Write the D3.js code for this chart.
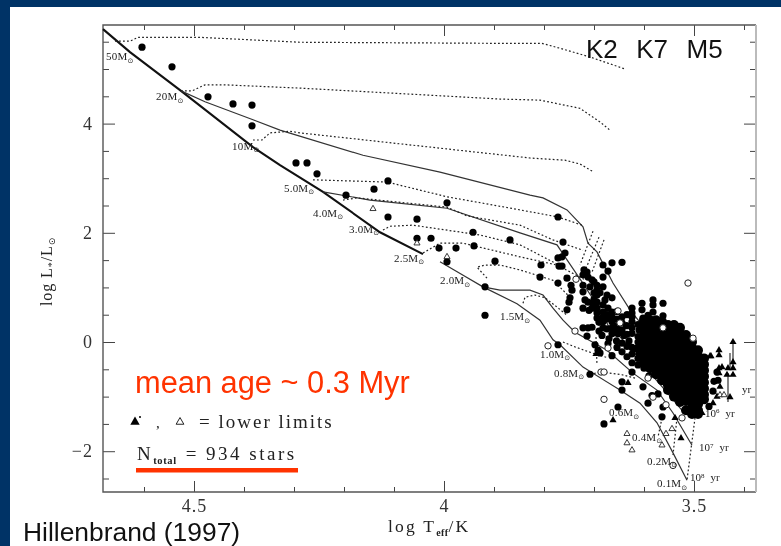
<!DOCTYPE html>
<html><head><meta charset="utf-8">
<script src="https://cdn.jsdelivr.net/npm/d3@7"></script>
<style>html,body{margin:0;padding:0;background:#fff;overflow:hidden}svg{display:block}</style>
</head><body><div id="chart"></div>
<script>
// ---- data, all in log Teff / log L units ----
const xMajor=[4.5,4,3.5];
const xMinor=[4.6,4.4,4.3,4.2,4.1,3.9,3.8,3.7,3.6,3.4];
const yMajor=[4,2,0,-2];
const yMinor=[5.5,5,4.5,3.5,3,2.5,1.5,1,0.5,-0.5,-1,-1.5,-2.5];

const zams=[[4.682,5.73],[4.628,5.31],[4.526,4.60],[4.382,3.57],[4.328,3.24],[4.242,2.75],[4.128,2.01],[4.042,1.61]];
const zamsLow=[[4.008,1.47],[3.922,1.01],[3.854,.70],[3.808,.40],[3.782,.04],[3.768,-.05],[3.722,-.46],[3.648,-.88],[3.608,-1.12],[3.574,-1.48],[3.542,-2.03],[3.514,-2.53]];
const birthA=[[4.526,4.60],[4.478,4.40],[4.382,4.07],[4.328,3.88],[4.162,3.42],[4.008,3.11],[3.828,2.69],[3.802,2.64],[3.754,2.42],[3.722,2.11],[3.712,1.81],[3.694,1.65],[3.662,1.08],[3.628,.59],[3.588,.13]];
const birthB=[[4.242,2.75],[4.148,2.60],[3.994,2.45],[3.848,2.00],[3.774,1.78],[3.758,1.56],[3.724,1.10],[3.688,.59],[3.672,.31],[3.628,-.09],[3.598,-.46],[3.558,-.88],[3.524,-1.25],[3.498,-1.39]];
const birthC=[[3.922,1.01],[3.888,.95],[3.828,.95],[3.802,.86],[3.782,.62],[3.762,.40],[3.738,.18],[3.674,-.15],[3.622,-.57],[3.574,-.88],[3.542,-1.30],[3.504,-1.89]];

const track50=[[4.658,5.51],[4.628,5.51],[4.612,5.58],[4.488,5.58],[4.288,5.49],[3.888,5.47],[3.804,5.47],[3.768,5.38],[3.708,5.22],[3.638,5.00]];
const track20=[[4.526,4.60],[4.504,4.60],[4.478,4.71],[4.438,4.71],[4.288,4.65],[3.888,4.45],[3.808,4.43],[3.728,4.28],[3.688,4.03],[3.668,3.88]];
const track10=[[4.382,3.70],[4.364,3.70],[4.348,3.83],[4.308,3.86],[4.288,3.83],[3.828,3.37],[3.758,3.33],[3.728,3.26],[3.700,3.11]];
const track5=[[4.262,2.97],[4.114,2.93],[3.994,2.66],[3.848,2.42],[3.772,2.29],[3.724,2.14]];
const track4=[[4.202,2.60],[4.174,2.64],[3.994,2.47],[3.954,2.31],[3.848,2.14],[3.782,1.87],[3.722,1.68]];
const track3=[[4.122,2.05],[4.108,2.12],[4.062,2.14],[3.928,1.96],[3.848,1.78],[3.762,1.37]];
const track25=[[4.042,1.63],[4.008,1.81],[3.962,1.81],[3.848,1.56],[3.774,1.41],[3.718,1.14]];
const track2=[[3.914,1.17],[3.934,1.37],[3.918,1.41],[3.888,1.41],[3.848,1.32],[3.782,1.13],[3.748,.82]];
const track15=[[3.842,.71],[3.838,.82],[3.818,.86],[3.798,.81],[3.774,.64],[3.754,.49]];
const track1=[[3.762,0],[3.738,-.09],[3.704,-.20],[3.672,-.29]];
const track08=[[3.708,-.59],[3.684,-.55],[3.644,-.60],[3.618,-.66]];
const iso1=[[3.702,2.03],[3.728,1.41]];
const iso2=[[3.69,1.92],[3.716,1.35]];
const iso3=[[3.68,1.87],[3.704,1.28]];
const iso4=[[3.696,.09],[3.694,-.42]];
const iso5=[[3.498,-1.39],[3.514,-2.53]];
const iso6=[[3.534,-1.39],[3.542,-2.07]];
const iso7=[[3.564,-1.39],[3.572,-1.74]];

const filledStars=[[4.604,5.40],[4.544,5.04],[4.472,4.49],[4.422,4.36],[4.384,4.34],[4.384,3.96],[4.296,3.28],[4.274,3.28],[4.254,3.08],[4.196,2.69],[4.14,2.80],[4.112,2.95],[4.112,2.29],[4.054,2.25],[4.054,1.90],[4.026,1.90],[4.01,1.72],[3.976,1.72],[3.94,1.76],[3.994,2.55],[3.942,2.01],[3.868,1.87],[3.898,1.48],[3.994,1.47],[3.918,1.01],[3.918,.49],
[3.772,2.29],[3.762,1.83],[3.758,1.63],[3.772,1.54],[3.764,1.56],[3.806,1.41],[3.77,1.39],[3.764,1.39],[3.808,1.19],[3.772,1.08],[3.754,1.17],[3.746,1.04],[3.744,.95],[3.748,.81],[3.75,.73],[3.754,.59],
[3.72,1.32],[3.722,1.23],[3.712,1.19],[3.704,1.14],[3.722,1.04],[3.708,1.01],[3.722,.92],[3.694,1.04],[3.694,.95],[3.694,.86],[3.718,.77],[3.712,.73],[3.702,.71],[3.694,.73],[3.694,.62],[3.694,.53],[3.694,.44],[3.722,.62],
[3.682,1.41],[3.664,1.45],[3.644,1.46],[3.672,1.30],[3.682,1.19],[3.682,1.01],[3.674,.86],[3.664,.81],[3.678,.77],[3.682,.68],[3.682,.55],[3.672,.62],[3.664,.55],[3.682,.46],[3.682,.37],[3.682,.26],[3.664,.46],[3.664,.37],[3.664,.26],[3.664,.15],[3.644,.46],[3.644,.35],[3.644,.22],[3.644,-.02],[3.644,-.18],[3.624,.62],[3.624,.53],[3.624,.46],[3.624,.37],[3.624,.16],[3.604,.71],[3.604,.59],[3.602,.44],[3.582,.77],[3.582,.68],[3.562,.71],[3.582,.55],[3.562,.48],[3.592,.49],
[3.772,-.05],[3.722,.26],[3.712,.26],[3.704,.27],[3.714,.11],[3.698,-.05],[3.692,-.15],[3.688,-.20],[3.634,-.27],[3.624,-.38],[3.624,-.55],[3.644,-.88],[3.708,-.59],[3.644,-.73],[3.602,-.82],[3.592,-1.12],[3.652,-1.19],[3.68,-1.50],[3.564,-1.37],[3.584,-.98],[3.572,-.95],[3.562,-1.19],[3.64,.12],[3.63,.02],[3.618,-.12],[3.61,-.20],[3.6,-.48],[3.59,-.62],[3.612,-.42],[3.61,.22],[3.612,.1],[3.655,.02],[3.652,.15],[3.67,.06],[3.672,-.03],[3.69,.2],[3.684,.12],
[3.612,.32],[3.612,0],[3.612,-.1],[3.612,-.3],[3.624,.26],[3.624,-.1],[3.624,-.22],[3.635,.3],[3.634,-.08],[3.654,.42],[3.654,.3],[3.7,.9],[3.704,.62],[3.674,.42],[3.674,.5],[3.654,-.1],[3.664,-.25],[3.454,-.55],[3.46,-.72],[3.462,-.9],[3.47,-1.18],[3.452,-.7],
[3.714,1.28],[3.7,1.1],[3.7,.78],[3.688,.9],[3.71,.58],[3.69,.36],[3.674,.24],[3.654,.56],[3.634,.5],[3.634,.14],[3.654,.2]];

const blobT=[3.600,3.588,3.576,3.564,3.552,3.540,3.528,3.516,3.504,3.492,3.480];
const blobL=[
[.40,.29,.18,.07,-.04,-.15,-.26,-.37],
[.40,.29,.18,.07,-.04,-.15,-.26,-.37,-.48],
[.40,.29,.18,.07,-.04,-.15,-.26,-.37,-.48,-.59],
[.37,.26,.15,.04,-.07,-.18,-.29,-.40,-.51,-.62,-.70],
[.31,.20,.09,-.02,-.13,-.24,-.35,-.46,-.57,-.68,-.79,-.88],
[.31,.20,.09,-.02,-.13,-.24,-.35,-.46,-.57,-.68,-.79,-.90,-1.00],
[.26,.15,.04,-.07,-.18,-.29,-.40,-.51,-.62,-.73,-.84,-.95,-1.10],
[.13,.02,-.09,-.20,-.31,-.42,-.53,-.64,-.75,-.86,-.97,-1.08,-1.25],
[0,-.11,-.22,-.33,-.44,-.55,-.66,-.77,-.88,-.99,-1.10,-1.21,-1.32],
[-.15,-.26,-.37,-.48,-.59,-.70,-.81,-.92,-1.03,-1.14,-1.25,-1.32],
[-.30,-.41,-.52,-.63,-.74,-.85,-.96,-1.05]];

const openStars=[[3.792,-.07],[3.68,-1.05],[3.686,-.55],[3.68,-.55],[3.672,-.11],[3.582,-1.01],[3.556,-1.15],[3.524,-1.39],[3.542,-2.26],[3.592,-.66],[3.512,1.08],[3.736,1.15],[3.738,.20],[3.652,.57],[3.562,.26],[3.502,.07],[3.648,.35]];
const filledTriangles=[[3.696,-.22],[3.632,-.75],[3.662,-1.43],[3.526,-1.76],[3.538,-1.39],[3.468,-.26],[3.45,-.15],[3.45,-.24],[3.466,-.26],[3.444,-.46],[3.45,-.48],[3.45,-.57],[3.422,0],[3.422,-.37],[3.432,-.48],[3.422,-.48],[3.434,-.60],[3.422,-.60],[3.448,-.82],[3.454,-1.0],[3.428,-1.01],[3.462,-1.12],[3.484,-1.30]];
const openTriangles=[[3.634,-1.68],[3.634,-1.85],[3.624,-1.98],[3.556,-1.68],[3.544,-1.59],[3.564,-1.89],[4.142,2.44],[4.054,1.81],[3.994,1.56],[3.448,-.97],[3.44,-.97]];
const crosses=[[3.612,2.97],[3.51,.55],[3.838,1.04],[3.808,.99],[3.774,.93],[3.762,.81],[3.72,.46],[3.722,1.72],[3.712,2.18],[3.662,1.19],[3.708,1.35],[3.428,-.20],[3.836,1.06],[3.918,.60],[3.992,1.55],[4.238,2.82],[4.178,2.44],[3.73,.2],[3.7,-.4]];
const errT=[3.422,3.428,3.432];
const errTop=[0,-.20,-.57];
const errBottom=[-.48,-.48,-1.10];

const massNames=["50","20","10","5.0","4.0","3.0","2.5","2.0","1.5","1.0","0.8","0.6","0.4","0.2","0.1"];
const massT=[4.676,4.576,4.424,4.32,4.262,4.19,4.1,4.008,3.888,3.808,3.78,3.67,3.624,3.594,3.574];
const massL=[5.16,4.43,3.52,2.75,2.29,2.0,1.47,1.06,.40,-.29,-.64,-1.36,-1.81,-2.25,-2.66];
const ageExp=["6","7","8"];
const ageT=[3.478,3.49,3.508];
const ageL=[-1.37,-2.0,-2.55];

// ---- scales ----
const W=781,H=546;
const fx={l:103,r:756,t:25,b:492};
const x=d3.scaleLinear().domain([4.682,3.376]).range([fx.l,fx.r]);
const y=d3.scaleLinear().domain([5.806,-2.747]).range([fx.t,fx.b]);

const svg=d3.select("#chart").append("svg").attr("width",W).attr("height",H);
svg.append("rect").attr("width",W).attr("height",H).attr("fill","#003366");
svg.append("rect").attr("x",10).attr("y",7).attr("width",W-10).attr("height",H-7).attr("fill","#fff");

const plot=svg.append("g").style("filter","blur(0.45px)");
const serif="'Liberation Serif','DejaVu Serif',serif";

// axes
function ax(gen,tx,ty,vals,size,labels,pad){
  const g=plot.append("g").attr("transform",`translate(${tx},${ty})`)
    .call(gen.tickValues(vals).tickSize(size).tickSizeOuter(0).tickPadding(pad||6)
      .tickFormat(labels?(d=>d<0?"\u2212"+(-d):d3.format("")(d)):""));
  g.select(".domain").remove();
  g.selectAll("line").attr("stroke","#444").attr("stroke-width",1);
  g.selectAll("text").attr("font-family",serif).attr("font-size",labels?18:0).attr("fill","#333").attr("letter-spacing",1);
  return g;
}
ax(d3.axisBottom(x),0,fx.b,xMajor,-11,true,7);
ax(d3.axisBottom(x),0,fx.b,xMinor,-5,false);
ax(d3.axisTop(x),0,fx.t,xMajor,-11,false);
ax(d3.axisTop(x),0,fx.t,xMinor,-5,false);
ax(d3.axisLeft(y),fx.l,0,yMajor,-12,true,10);
ax(d3.axisLeft(y),fx.l,0,yMinor,-6,false);
ax(d3.axisRight(y),fx.r,0,yMajor,-12,false);
ax(d3.axisRight(y),fx.r,0,yMinor,-6,false);
plot.append("path").attr("d",`M${fx.r},${fx.t}H${fx.l}V${fx.b}H${fx.r}`).attr("fill","none").attr("stroke","#555").attr("stroke-width",1.4);
plot.append("path").attr("d",`M${fx.r},${fx.t}V${fx.b}`).attr("fill","none").attr("stroke","#bbb").attr("stroke-width",2);

// lines
const line=d3.line().x(d=>x(d[0])).y(d=>y(d[1]));
[zams].forEach(s=>plot.append("path").attr("d",line(s)).attr("fill","none").attr("stroke","#111").attr("stroke-width",2.1));
[zamsLow,birthA,birthB,birthC].forEach(s=>plot.append("path").attr("d",line(s)).attr("fill","none").attr("stroke","#333").attr("stroke-width",1.2));
[track50,track20,track10,track5,track4,track3,track25,track2,track15,track1,track08,iso1,iso2,iso3,iso4,iso5,iso6,iso7].forEach(s=>
  plot.append("path").attr("d",line(s)).attr("fill","none").attr("stroke","#222").attr("stroke-width",1.2).attr("stroke-dasharray","1.8 2.2"));

// error bars
plot.append("g").selectAll("line").data(errT).join("line")
  .attr("x1",d=>x(d)).attr("x2",d=>x(d))
  .attr("y1",(d,i)=>y(errTop[i])).attr("y2",(d,i)=>y(errBottom[i]))
  .attr("stroke","#222").attr("stroke-width",1.1);

// stars
const blobStars=blobT.flatMap((t,i)=>blobL[i].map(l=>[t,l]));
plot.append("g").selectAll("circle").data(blobStars).join("circle")
  .attr("cx",d=>x(d[0])).attr("cy",d=>y(d[1])).attr("r",5).attr("fill","#000");
plot.append("g").selectAll("circle").data(filledStars).join("circle")
  .attr("cx",d=>x(d[0])).attr("cy",d=>y(d[1])).attr("r",3.6).attr("fill","#000");
plot.append("g").selectAll("circle").data(openStars).join("circle")
  .attr("cx",d=>x(d[0])).attr("cy",d=>y(d[1])).attr("r",3.2).attr("fill","#fff").attr("stroke","#222").attr("stroke-width",1);
const sym=(type,size)=>d3.symbol().type(type).size(size)();
plot.append("g").selectAll("path").data(filledTriangles).join("path")
  .attr("d",sym(d3.symbolTriangle,22)).attr("transform",d=>`translate(${x(d[0])},${y(d[1])})`).attr("fill","#000");
plot.append("g").selectAll("path").data(openTriangles).join("path")
  .attr("d",sym(d3.symbolTriangle,16)).attr("transform",d=>`translate(${x(d[0])},${y(d[1])})`).attr("fill","#fff").attr("stroke","#222").attr("stroke-width",.9);
plot.append("g").selectAll("path").data(crosses).join("path")
  .attr("d",sym(d3.symbolTimes,9)).attr("transform",d=>`translate(${x(d[0])},${y(d[1])})`).attr("fill","#222");

// mass labels
const ml=plot.append("g").attr("font-family",serif).attr("font-size",11).attr("fill","#222").attr("letter-spacing",.2);
massNames.forEach((m,i)=>{
  const t=ml.append("text").attr("x",x(massT[i])).attr("y",y(massL[i]));
  t.append("tspan").text(m+"M");
  t.append("tspan").attr("dy",2.5).attr("font-size",7).attr("font-family","'DejaVu Sans'").text("\u2299");
});
// age labels
const al=plot.append("g").attr("font-family",serif).attr("font-size",11).attr("fill","#222");
ageExp.forEach((e,i)=>{
  const t=al.append("text").attr("x",x(ageT[i])).attr("y",y(ageL[i]));
  t.append("tspan").text("10");
  t.append("tspan").attr("dy",-3.5).attr("font-size",7).text(e);
  t.append("tspan").attr("dy",3.5).attr("dx",6).text("yr");
});
al.append("text").attr("x",x(3.404)).attr("y",y(-.93)).text("yr");

// axis titles
const xt=plot.append("text").attr("x",388).attr("y",532).attr("font-family",serif).attr("font-size",17.5).attr("fill","#222").attr("letter-spacing",2.2);
xt.append("tspan").text("log T");
xt.append("tspan").attr("dy",3.5).attr("font-size",10).attr("font-weight","bold").attr("letter-spacing",.4).text("eff");
xt.append("tspan").attr("dy",-3.5).text("/K");
const yt=plot.append("text").attr("transform","translate(52,306) rotate(-90)").attr("font-family",serif).attr("font-size",16).attr("fill","#222").attr("letter-spacing",.9);
yt.append("tspan").text("log L");
yt.append("tspan").attr("dy",3).attr("font-size",10).text("*");
yt.append("tspan").attr("dy",-3).text("/L");
yt.append("tspan").attr("dy",3).attr("font-size",9).attr("font-family","'DejaVu Sans'").text("\u2299");

// legend notes
plot.append("path").attr("d",sym(d3.symbolTriangle,38)).attr("transform","translate(135,422)").attr("fill","#000");
plot.append("circle").attr("cx",140).attr("cy",417).attr("r",1).attr("fill","#000");
plot.append("text").attr("x",156).attr("y",428).attr("font-family",serif).attr("font-size",15).attr("fill","#222").text(",");
plot.append("path").attr("d",sym(d3.symbolTriangle,26)).attr("transform","translate(180,422)").attr("fill","#fff").attr("stroke","#222").attr("stroke-width",1);
plot.append("text").attr("x",199).attr("y",428).attr("font-family",serif).attr("font-size",19).attr("fill","#222").attr("letter-spacing",2).text("= lower limits");
const nt=plot.append("text").attr("x",137).attr("y",460).attr("font-family",serif).attr("font-size",19).attr("fill","#222").attr("letter-spacing",2.5);
nt.append("tspan").text("N");
nt.append("tspan").attr("dy",4).attr("font-size",10.5).attr("font-weight","bold").attr("letter-spacing",.6).text("total");
nt.append("tspan").attr("dy",-4).attr("dx",9).text("= 934 stars");

// slide overlays
const sans="'Liberation Sans',Arial,sans-serif";
svg.append("rect").attr("x",136).attr("y",468).attr("width",162).attr("height",4.5).attr("fill","#ff3300");
svg.append("text").attr("x",135).attr("y",393).attr("font-family",sans).attr("font-size",30.8).attr("fill","#ff3300").text("mean age ~ 0.3 Myr");
svg.append("text").attr("x",586).attr("y",58).attr("font-family",sans).attr("font-size",26).attr("word-spacing",2).attr("fill","#111").style("white-space","pre").text("K2  K7  M5");
svg.append("text").attr("x",23).attr("y",541).attr("font-family",sans).attr("font-size",26.4).attr("fill","#111").text("Hillenbrand (1997)");
</script></body></html>
